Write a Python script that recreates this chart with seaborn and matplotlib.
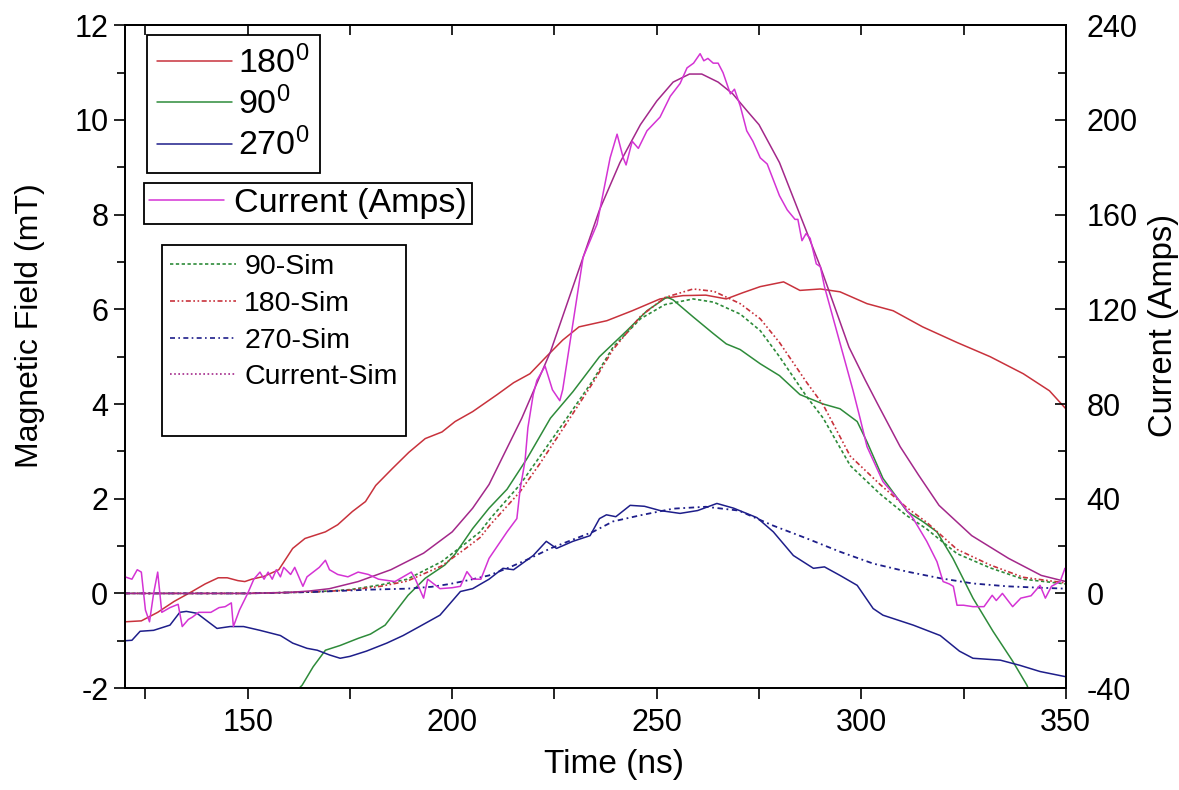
import numpy as np
import pandas as pd
import matplotlib
matplotlib.use("Agg")
import matplotlib.pyplot as plt
from matplotlib.lines import Line2D
from matplotlib.ticker import MultipleLocator
import seaborn as sns

# ---------------- data ----------------
t_180 = [120, 124, 128, 132, 136.4, 139.6, 142.8, 145, 147.6, 149.3, 151, 154, 157.6, 161, 164, 169, 172,
         175.6, 178.8, 181.3, 185.4, 189.4, 193.4, 197.5, 200.7, 205, 211, 215, 219, 223, 227, 231, 237.8,
         244, 250.8, 256.4, 262, 267, 271, 275.3, 281, 285, 290, 294.8, 301.4, 307.8, 315, 323.4, 331.5,
         339.6, 346, 350]
b_180 = [-0.6, -0.58, -0.4, -0.17, 0.04, 0.2, 0.33, 0.33, 0.27, 0.25, 0.3, 0.36, 0.5, 0.95, 1.16, 1.3, 1.45,
         1.73, 1.94, 2.28, 2.64, 2.98, 3.27, 3.41, 3.63, 3.84, 4.2, 4.45, 4.64, 5.0, 5.35, 5.63, 5.76,
         5.97, 6.22, 6.29, 6.3, 6.22, 6.35, 6.48, 6.58, 6.4, 6.43, 6.37, 6.12, 5.97, 5.63, 5.3, 5.0,
         4.64, 4.28, 3.9]

t_90 = [162, 163.3, 166, 169, 172.6, 177, 180, 183.6, 186, 189.2, 193.4, 198.2, 200.7, 205, 209, 213.4,
        218.3, 224, 229.5, 236, 242.7, 247.6, 252.5, 254, 258.9, 263.8, 267, 270.4, 275.3, 280, 285,
        290.7, 294.8, 299, 301.4, 305.3, 311.2, 315, 318.5, 322.4, 327.3, 332.2, 337, 340.5, 341]
b_90 = [-2.05, -1.94, -1.55, -1.2, -1.1, -0.95, -0.86, -0.67, -0.4, -0.04, 0.32, 0.6, 0.83, 1.37, 1.8, 2.2,
        2.85, 3.7, 4.26, 5.0, 5.55, 5.97, 6.26, 6.2, 5.84, 5.49, 5.27, 5.15, 4.85, 4.6, 4.2,
        4.0, 3.9, 3.63, 3.2, 2.43, 1.73, 1.52, 1.3, 0.74, -0.1, -0.8, -1.43, -1.94, -2.05]

t_270 = [120, 121.7, 123.7, 127, 131, 133.4, 135, 137.6, 140.8, 142.5, 145.7, 149, 153, 158, 161, 164.5,
         167, 170, 172.6, 175, 179, 184, 188, 192, 197, 202, 205, 209, 212.4, 215, 219.8, 223, 225.5,
         229.5, 233.7, 236, 237.7, 240, 243.5, 247, 250.8, 255.7, 260, 264.7, 268.8, 274.5, 278.5,
         283.4, 288.3, 291, 294.8, 299, 302.9, 305.3, 312.7, 319.3, 324, 327.3, 334, 338.8, 343.7, 350]
b_270 = [-1.0, -0.99, -0.8, -0.78, -0.67, -0.4, -0.38, -0.42, -0.63, -0.74, -0.7, -0.7, -0.78, -0.89,
         -1.05, -1.16, -1.2, -1.3, -1.37, -1.33, -1.22, -1.05, -0.89, -0.7, -0.46, 0.04, 0.1, 0.3, 0.53,
         0.5, 0.8, 1.1, 0.95, 1.1, 1.22, 1.58, 1.66, 1.62, 1.86, 1.84, 1.75, 1.69, 1.75, 1.9, 1.8, 1.6,
         1.3, 0.8, 0.53, 0.56, 0.38, 0.17, -0.32, -0.46, -0.67, -0.89, -1.22, -1.37, -1.41, -1.52,
         -1.65, -1.76]

# measured current (Amps)
t_cur = [120, 121.7, 123, 124, 125, 126, 127, 128, 129, 131, 133, 134, 135.5, 136.5, 138, 141, 143, 144.5,
         146, 146.5, 148, 150, 151.5, 153, 154, 155, 156, 157, 158, 158.8, 160.5, 161.5, 162.5, 163.5,
         164.5, 166, 167.5, 169, 170, 172, 174.5, 177, 179.5, 182, 186, 188, 190, 191, 193, 194, 197,
         200, 202, 203.6, 205, 207, 209, 213.4, 215.8, 216.6, 217.8, 218.5, 219.8, 220.7, 222.7, 224.5,
         226.3, 227, 229.5, 232, 235.4, 238.6, 240.3, 241.8, 242.5, 244, 245.5, 247.6, 250.8, 253.3,
         255.7, 257.4, 259, 260.6, 261.5, 262.5, 263.8, 265, 266.2, 268, 269, 270.4, 272, 273.5, 275.3,
         277, 280, 281.9, 283.8, 284.5, 285.5, 286.5, 287.5, 289, 290, 291, 293, 295.5, 298, 299.7,
         301.4, 305.3, 309.5, 312.7, 316, 318.5, 320, 321.5, 322.5, 323.4, 325, 327.3, 330, 332, 333,
         334.5, 337, 339, 341.5, 343.7, 345, 346.5, 348.6, 349.8, 350]
i_cur = [7, 6, 10, 9, -7, -12, 0, 9, -8, -6, -4.6, -14, -11, -10, -8, -8, -6, -5.6, -4, -14, -7, 0, 6, 9,
         6, 9, 6, 10, 7, 11, 8, 11, 7, 3, 7, 9, 11, 14, 10, 8, 7, 9, 8, 6, 5, 7, 9, 6, -2, 6, 2,
         2.4, 3, 9.2, 6, 6, 14.8, 26, 31.6, 44, 56, 70, 84, 90, 96, 86,
         81.4, 86, 114, 142, 156, 184, 194, 184, 181, 191, 188, 195.4, 201.2, 210,
         215.4, 222, 224, 228, 225, 226, 224, 224, 220, 211, 213, 206, 195.4, 191, 184,
         181.4, 168, 162, 158, 158, 149, 152, 150, 139.2, 138, 129.6, 117, 101.2, 85.6, 74,
         62, 47.2, 38.8, 31.6, 22, 13.4, 5, 4, 3, -5, -5, -5.6, -5.6, -0.8, -3,
         0, -5.6, -2, -1, 3.4, -2, 3, 5, 10.6, 10]

# simulated current (Amps)
t_isim = [120, 150, 160, 165, 170, 177, 185, 193, 200, 205, 209, 213, 217, 220, 224, 230, 236, 241, 246,
          250, 254, 258, 261, 265, 268.6, 272, 275, 280, 285, 290, 297, 301, 304, 309.5, 314, 319, 327,
          336, 344, 350]
i_isim = [0, 0, 0.4, 1, 2, 5, 10, 17, 26, 36, 46, 60, 74, 86, 102, 132, 162, 182, 198,
          208, 216, 219.4, 219.4, 216, 211, 204, 198, 182, 160, 138, 104, 90, 80, 62, 50, 37.2, 24.4,
          14.8, 7.6, 5]

# simulated fields (mT)
t_sim = [120, 150, 160, 166, 175, 182.5, 189, 197.4, 203.3, 206.8, 209.3, 216.6, 221.5, 228, 234.4, 239.3,
         246, 252, 258.9, 264, 270.4, 275.3, 280, 286.7, 290.7, 297.3, 304.6, 311, 316, 323.4, 331.5,
         339.6, 350]
b_sim90 = [0, 0, 0.02, 0.03, 0.08, 0.18, 0.3, 0.67, 1.06, 1.3, 1.58, 2.3, 2.9, 3.7, 4.5, 5.2,
           5.8, 6.1, 6.22, 6.15, 5.9, 5.55, 5.0, 4.15, 3.7, 2.7, 2.1, 1.65, 1.36, 0.84, 0.54,
           0.3, 0.2]
t_sim180 = [120, 150, 160, 166, 175, 182.5, 189, 197.4, 203.3, 206.8, 209.3, 216.6, 221.5, 228, 234.4,
            239.3, 246, 252, 258.9, 264, 270.4, 275.3, 280, 286.7, 290.7, 297.3, 304.6, 311, 316, 323.4,
            331.5, 339.6, 350]
b_sim180 = [0, 0, 0.02, 0.03, 0.07, 0.15, 0.26, 0.58, 0.95, 1.18, 1.45, 2.15, 2.75, 3.6, 4.45, 5.15,
            5.85, 6.25, 6.43, 6.38, 6.12, 5.8, 5.3, 4.45, 3.98, 2.9, 2.3, 1.82, 1.5, 0.93, 0.6,
            0.34, 0.22]

t_sim270 = [120, 150, 166, 180, 189, 195, 199.5, 204, 209, 214, 219, 224, 229, 234.4, 239.3, 246, 254,
            262, 270, 278.5, 286.7, 294.8, 302.9, 311.2, 319.3, 327.3, 335.6, 343.7, 350]
b_sim270 = [0, 0, 0.03, 0.08, 0.1, 0.14, 0.2, 0.28, 0.38, 0.55, 0.74, 0.95, 1.12, 1.3, 1.52, 1.65, 1.79,
            1.83, 1.75, 1.43, 1.16, 0.88, 0.63, 0.46, 0.32, 0.21, 0.15, 0.12, 0.1]

# ---------------- styling ----------------
C180, C90, C270 = "#c8323c", "#2e8b3a", "#1e1e8a"
CCUR, CISIM = "#d433d4", "#a3288a"

sns.set_theme(style="ticks")
plt.rcParams["font.family"] = ["Liberation Sans", "DejaVu Sans"]
plt.rcParams["mathtext.fontset"] = "custom"
plt.rcParams["mathtext.rm"] = "Liberation Sans"
plt.rcParams["mathtext.it"] = "Liberation Sans"
plt.rcParams["axes.unicode_minus"] = False
plt.rcParams["text.color"] = "black"
plt.rcParams["axes.labelcolor"] = "black"
plt.rcParams["xtick.color"] = "black"
plt.rcParams["ytick.color"] = "black"

fig = plt.figure(figsize=(11.79, 7.90), dpi=100)
ax = fig.add_axes([0.106, 0.129, 0.798, 0.839])
ax2 = ax.twinx()

lw = 1.1
sns.lineplot(x=t_180, y=b_180, ax=ax, color=C180, lw=lw, sort=False, estimator=None)
sns.lineplot(x=t_90, y=b_90, ax=ax, color=C90, lw=lw, sort=False, estimator=None)
sns.lineplot(x=t_270, y=b_270, ax=ax, color=C270, lw=lw, sort=False, estimator=None)
sns.lineplot(x=t_sim, y=b_sim90, ax=ax, color=C90, lw=1.2, linestyle=(0, (2, 1.5)), sort=False, estimator=None)
sns.lineplot(x=t_sim180, y=b_sim180, ax=ax, color=C180, lw=1.2, linestyle=(0, (3, 1.5, 1, 1.5, 1, 1.5)),
             sort=False, estimator=None)
sns.lineplot(x=t_sim270, y=b_sim270, ax=ax, color=C270, lw=1.3, linestyle=(0, (3, 2, 1, 2)), sort=False,
             estimator=None)
sns.lineplot(x=t_isim, y=i_isim, ax=ax2, color=CISIM, lw=lw, sort=False, estimator=None)
sns.lineplot(x=t_cur, y=i_cur, ax=ax2, color=CCUR, lw=lw, sort=False, estimator=None)

ax.set_xlim(120, 350)
ax.set_ylim(-2, 12)
ax2.set_ylim(-40, 240)

ax.xaxis.set_major_locator(MultipleLocator(50))
ax.xaxis.set_minor_locator(MultipleLocator(25))
ax.yaxis.set_major_locator(MultipleLocator(2))
ax.yaxis.set_minor_locator(MultipleLocator(1))
ax2.yaxis.set_major_locator(MultipleLocator(40))
ax2.yaxis.set_minor_locator(MultipleLocator(20))

ax.tick_params(axis="x", which="major", direction="out", length=8, width=1.2, labelsize=22, pad=6)
ax.tick_params(axis="x", which="minor", direction="out", length=8, width=1.2)
ax.tick_params(axis="y", which="major", direction="out", length=8, width=1.2, labelsize=22, pad=4)
ax.tick_params(axis="y", which="minor", direction="out", length=6, width=1.2)
ax2.tick_params(axis="y", which="major", direction="in", length=8, width=1.2, labelsize=22, pad=15)
ax2.tick_params(axis="y", which="minor", direction="in", length=6, width=1.2)

top = ax.secondary_xaxis("top")
top.xaxis.set_major_locator(MultipleLocator(25))
top.tick_params(direction="in", length=7, width=1.2, labeltop=False)

for a in (ax, ax2):
    for s in a.spines.values():
        s.set_linewidth(1.3)
        s.set_color("black")
for s in top.spines.values():
    s.set_linewidth(1.3)

ax.set_xlabel("Time (ns)", fontsize=24)
ax.set_ylabel("Magnetic Field (mT)", fontsize=23)
ax2.set_ylabel("Current (Amps)", fontsize=23.5)
ax.xaxis.set_label_coords(0.52, -0.092)
ax.yaxis.set_label_coords(-0.085, 0.547)
ax2.yaxis.set_label_coords(1.087, 0.547)

# ---------------- legends ----------------
common = dict(loc="upper left", borderaxespad=0, fancybox=False, framealpha=1, edgecolor="black")
h1 = [Line2D([], [], color=C180, lw=lw), Line2D([], [], color=C90, lw=lw), Line2D([], [], color=C270, lw=lw)]
leg1 = ax2.legend(h1, [r"180$^{0}$", r"90$^{0}$", r"270$^{0}$"], bbox_to_anchor=(0.023, 0.985),
                  fontsize=24.5, handlelength=2.2, handletextpad=0.2, borderpad=0.3, labelspacing=0.2,
                  **common)
ax2.add_artist(leg1)
h2 = [Line2D([], [], color=CCUR, lw=lw)]
leg2 = ax2.legend(h2, ["Current (Amps)"], bbox_to_anchor=(0.020, 0.762), fontsize=24.5, handlelength=2.2,
                  handletextpad=0.3, borderpad=0.15, **common)
ax2.add_artist(leg2)
h3 = [Line2D([], [], color=C90, lw=1.2, linestyle=(0, (2, 1.5))),
      Line2D([], [], color=C180, lw=1.2, linestyle=(0, (3, 1.5, 1, 1.5, 1, 1.5))),
      Line2D([], [], color=C270, lw=1.2, linestyle=(0, (3, 2, 1, 2))),
      Line2D([], [], color=CISIM, lw=1.2, linestyle=(0, (1, 1.5))),
      Line2D([], [], color="none")]
leg3 = ax2.legend(h3, ["90-Sim", "180-Sim", "270-Sim", "Current-Sim", " "], bbox_to_anchor=(0.039, 0.668),
                  fontsize=20.5, handlelength=2.3, handletextpad=0.3, borderpad=0.3, labelspacing=0.38,
                  **common)
for lg in (leg1, leg2, leg3):
    lg.get_frame().set_linewidth(1.3)

fig.savefig("out.png", dpi=100)
